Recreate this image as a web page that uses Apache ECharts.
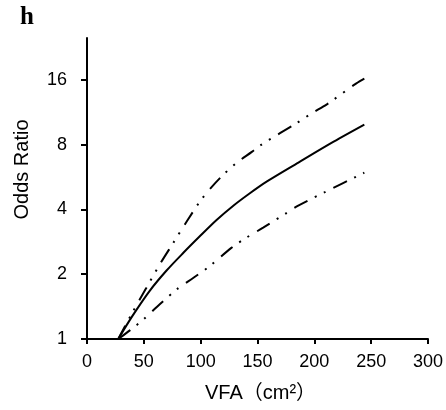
<!DOCTYPE html>
<html>
<head>
<meta charset="utf-8">
<script src="https://cdn.jsdelivr.net/npm/echarts@6/dist/echarts.min.js"></script>
<style>
html,body{margin:0;padding:0;background:#fff;}
#chart{width:446px;height:410px;}
</style>
</head>
<body>
<div id="chart"></div>
<script>
// VFA (cm²) vs Odds Ratio
const estimate = [[27.5,1],[40,1.28],[55,1.67],[70,2.08],[85,2.52],[99,2.99],[114,3.57],[129,4.17],[143,4.74],[158,5.38],[186,6.6],[217,8.25],[244,9.9]];
const upperCI = [[27.5,1],[39,1.3],[52,1.72],[64,2.22],[76,2.8],[88,3.53],[100,4.4],[110,5.1],[120,5.8],[132,6.6],[145,7.4],[152,7.9],[167,8.85],[182,9.87],[198,11.2],[211,12.3],[237,15.4],[244,16.2]];
const lowerCI = [[27.5,1],[38,1.1],[49.5,1.23],[64,1.45],[79,1.7],[94,1.93],[108,2.18],[127,2.65],[140,2.95],[155,3.29],[176,3.86],[185,4.14],[211,4.86],[244,5.92]];
const yTicks = [1,2,4,8,16];
const xTitle = 'VFA（cm²）';
const yTitle = 'Odds Ratio';
const panel = 'h';

const chart = echarts.init(document.getElementById('chart'));
const font = '"Liberation Sans", Arial, "Noto Sans CJK SC", sans-serif';
const dash = [15,8,2,8,2,9];
chart.setOption({
  animation: false,
  title: {
    text: panel, left: 15, top: 0,
    textStyle: {fontFamily: '"Liberation Serif", "Times New Roman", serif', fontWeight: 'bold', fontSize: 25, color: '#000'}
  },
  grid: {left: 87, right: 18, top: 38, bottom: 71},
  xAxis: {
    type: 'value', min: 0, max: 300, interval: 50,
    name: xTitle, nameLocation: 'middle', nameGap: 44,
    nameTextStyle: {fontFamily: font, fontSize: 20, color: '#000', padding: [0,0,0,6]},
    axisLine: {lineStyle: {color: '#000', width: 2}},
    axisTick: {show: true, length: 5, lineStyle: {color: '#000', width: 2}},
    axisLabel: {fontFamily: font, fontSize: 18, color: '#000', margin: 14},
    splitLine: {show: false}
  },
  yAxis: {
    type: 'log', logBase: 2, min: 1, max: 25,
    name: yTitle, nameLocation: 'middle', nameGap: 55,
    nameTextStyle: {fontFamily: font, fontSize: 20, color: '#000', padding: [0,0,0,38]},
    axisLine: {show: true, lineStyle: {color: '#000', width: 2}},
    axisTick: {show: true, length: 6, lineStyle: {color: '#000', width: 2}, customValues: yTicks},
    axisLabel: {fontFamily: font, fontSize: 18, color: '#000', margin: 20, customValues: yTicks},
    splitLine: {show: false}
  },
  series: [
    {type: 'line', data: estimate, showSymbol: false, smooth: 0.3,
     lineStyle: {color: '#000', width: 2}},
    {type: 'line', data: upperCI, showSymbol: false, smooth: 0.3,
     lineStyle: {color: '#000', width: 2, type: dash}},
    {type: 'line', data: lowerCI, showSymbol: false, smooth: 0.3,
     lineStyle: {color: '#000', width: 2, type: dash}}
  ]
});
</script>
</body>
</html>
